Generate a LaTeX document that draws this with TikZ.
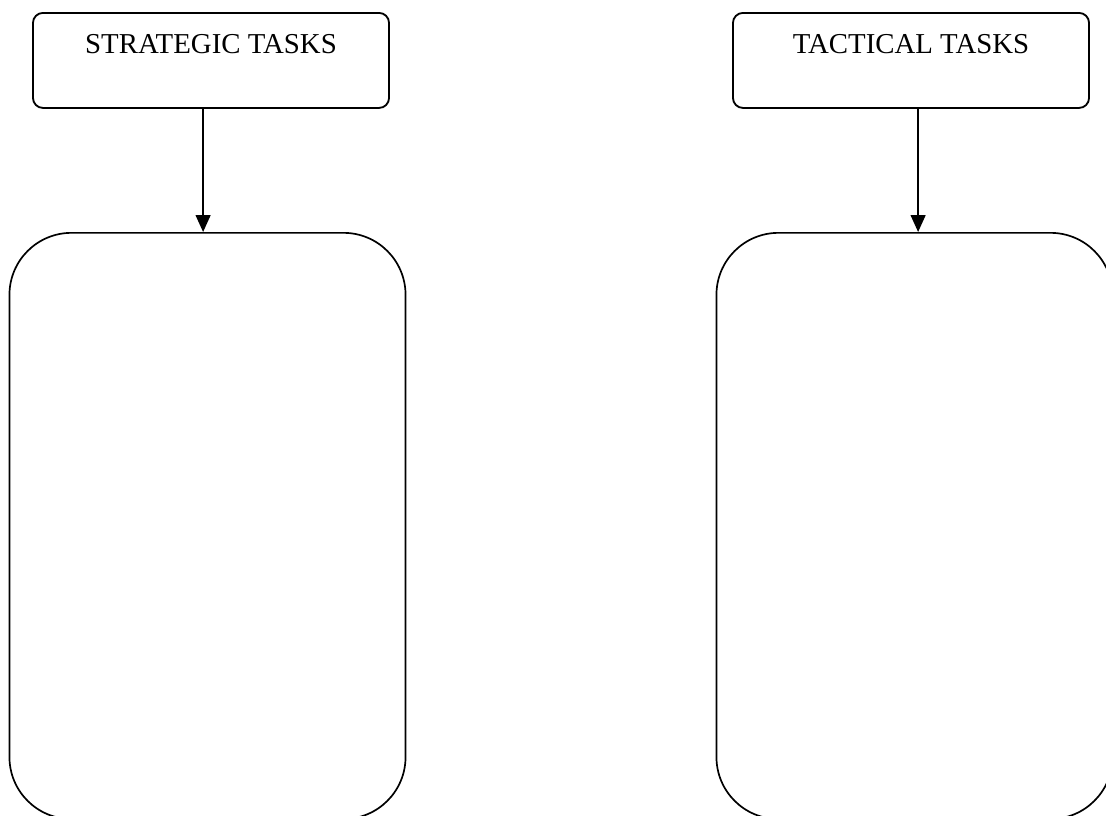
\documentclass[tikz,border=0pt]{standalone}
\usepackage{fontspec}
\setmainfont{Liberation Serif}
\usetikzlibrary{arrows.meta, positioning}

\begin{document}
\begin{tikzpicture}[
    x=0.025cm, y=-0.025cm,
    taskbox/.style={draw, line width=1.3pt, rounded corners=0.25cm,
      minimum width=8.9cm, inner sep=0pt, text height=1.025cm,
      text depth=1.35cm, anchor=north,
      font=\fontsize{20.5}{24}\selectfont},
    panel/.style={draw, line width=1.2pt, rounded corners=1.55cm,
      minimum width=9.9cm, minimum height=14.65cm, inner sep=0pt,
      anchor=north},
    flow/.style={line width=1.3pt, -{Triangle[width=10.5pt,length=12pt]}},
]
\useasboundingbox (0,0) rectangle (1106,816);
\clip (0,0) rectangle (1106,816);

% Two columns: header box, arrow, empty panel
\foreach \name/\txt/\tx/\px/\dx in {
  strat/STRATEGIC TASKS/211/207.5/-0.11cm,
  tact/TACTICAL TASKS/911/914.5/0.09cm} {
  \node[taskbox] (\name task) at (\tx, 12) {\txt};
  \node[panel] (\name panel) at (\px, 232) {};
  \draw[flow] ([xshift=\dx]\name panel.north |- \name task.south)
    -- ([xshift=\dx]\name panel.north);
}

\end{tikzpicture}
\end{document}
